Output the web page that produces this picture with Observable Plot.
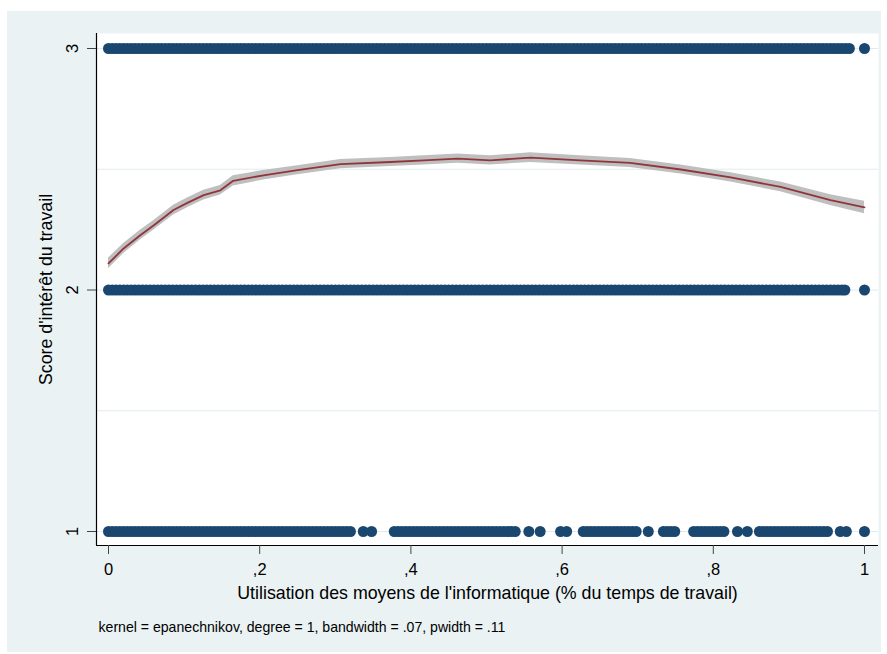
<!DOCTYPE html>
<html>
<head>
<meta charset="utf-8">
<script src="https://cdn.jsdelivr.net/npm/d3@7"></script>
<script src="https://cdn.jsdelivr.net/npm/@observablehq/plot@0.6"></script>
<style>
  html, body { margin: 0; padding: 0; background: #ffffff; overflow: hidden; }
  #bg { position: absolute; left: 7px; top: 11px; width: 874px; height: 641px; background: #eaf2f3; }
  #chart { position: absolute; left: 0; top: 0; }
</style>
</head>
<body>
<div id="bg"></div>
<div id="chart"></div>
<script>
// ---- Data ----
const xTicks = [0, 0.2, 0.4, 0.6, 0.8, 1];
const xTickLabels = ["0", ",2", ",4", ",6", ",8", "1"];
const yTicks = [1, 2, 3];
const yGrid = [1, 1.5, 2, 2.5, 3];

// observed x values of the dots for score = 3
const score3X = [
  0,0.005,0.01,0.015,0.02,0.025,0.03,0.035,0.04,0.045,0.05,0.055,0.06,0.065,0.07,0.075,0.08,0.085,0.09,0.095,
  0.1,0.105,0.11,0.115,0.12,0.125,0.13,0.135,0.14,0.145,0.15,0.155,0.16,0.165,0.17,0.175,0.18,0.185,0.19,0.195,
  0.2,0.205,0.21,0.215,0.22,0.225,0.23,0.235,0.24,0.245,0.25,0.255,0.26,0.265,0.27,0.275,0.28,0.285,0.29,0.295,
  0.3,0.305,0.31,0.315,0.32,0.325,0.33,0.335,0.34,0.345,0.35,0.355,0.36,0.365,0.37,0.375,0.38,0.385,0.39,0.395,
  0.4,0.405,0.41,0.415,0.42,0.425,0.43,0.435,0.44,0.445,0.45,0.455,0.46,0.465,0.47,0.475,0.48,0.485,0.49,0.495,
  0.5,0.505,0.51,0.515,0.52,0.525,0.53,0.535,0.54,0.545,0.55,0.555,0.56,0.565,0.57,0.575,0.58,0.585,0.59,0.595,
  0.6,0.605,0.61,0.615,0.62,0.625,0.63,0.635,0.64,0.645,0.65,0.655,0.66,0.665,0.67,0.675,0.68,0.685,0.69,0.695,
  0.7,0.705,0.71,0.715,0.72,0.725,0.73,0.735,0.74,0.745,0.75,0.755,0.76,0.765,0.77,0.775,0.78,0.785,0.79,0.795,
  0.8,0.805,0.81,0.815,0.82,0.825,0.83,0.835,0.84,0.845,0.85,0.855,0.86,0.865,0.87,0.875,0.88,0.885,0.89,0.895,
  0.9,0.905,0.91,0.915,0.92,0.925,0.93,0.935,0.94,0.945,0.95,0.955,0.96,0.965,0.97,0.975,0.98,
  1];
// observed x values of the dots for score = 2
const score2X = [
  0,0.005,0.01,0.015,0.02,0.025,0.03,0.035,0.04,0.045,0.05,0.055,0.06,0.065,0.07,0.075,0.08,0.085,0.09,0.095,
  0.1,0.105,0.11,0.115,0.12,0.125,0.13,0.135,0.14,0.145,0.15,0.155,0.16,0.165,0.17,0.175,0.18,0.185,0.19,0.195,
  0.2,0.205,0.21,0.215,0.22,0.225,0.23,0.235,0.24,0.245,0.25,0.255,0.26,0.265,0.27,0.275,0.28,0.285,0.29,0.295,
  0.3,0.305,0.31,0.315,0.32,0.325,0.33,0.335,0.34,0.345,0.35,0.355,0.36,0.365,0.37,0.375,0.38,0.385,0.39,0.395,
  0.4,0.405,0.41,0.415,0.42,0.425,0.43,0.435,0.44,0.445,0.45,0.455,0.46,0.465,0.47,0.475,0.48,0.485,0.49,0.495,
  0.5,0.505,0.51,0.515,0.52,0.525,0.53,0.535,0.54,0.545,0.55,0.555,0.56,0.565,0.57,0.575,0.58,0.585,0.59,0.595,
  0.6,0.605,0.61,0.615,0.62,0.625,0.63,0.635,0.64,0.645,0.65,0.655,0.66,0.665,0.67,0.675,0.68,0.685,0.69,0.695,
  0.7,0.705,0.71,0.715,0.72,0.725,0.73,0.735,0.74,0.745,0.75,0.755,0.76,0.765,0.77,0.775,0.78,0.785,0.79,0.795,
  0.8,0.805,0.81,0.815,0.82,0.825,0.83,0.835,0.84,0.845,0.85,0.855,0.86,0.865,0.87,0.875,0.88,0.885,0.89,0.895,
  0.9,0.905,0.91,0.915,0.92,0.925,0.93,0.935,0.94,0.945,0.95,0.955,0.96,0.965,0.97,0.974,
  1];
// observed x values of the dots for score = 1
const score1X = [
  0,0.005,0.01,0.015,0.02,0.025,0.03,0.035,0.04,0.045,0.05,0.055,0.06,0.065,0.07,0.075,0.08,0.085,0.09,0.095,
  0.1,0.105,0.11,0.115,0.12,0.125,0.13,0.135,0.14,0.145,0.15,0.155,0.16,0.165,0.17,0.175,0.18,0.185,0.19,0.195,
  0.2,0.205,0.21,0.215,0.22,0.225,0.23,0.235,0.24,0.245,0.25,0.255,0.26,0.265,0.27,0.275,0.28,0.285,0.29,0.295,
  0.3,0.305,0.31,0.315,0.32,
  0.337,0.348,
  0.378,0.383,0.388,0.393,0.398,0.403,0.408,0.413,0.418,0.423,0.428,0.433,0.438,0.443,0.448,0.453,0.458,0.463,
  0.468,0.473,0.478,0.483,0.488,0.493,0.498,0.503,0.508,0.513,0.518,0.523,0.528,0.533,0.538,
  0.556,0.571,
  0.598,0.606,
  0.628,0.633,0.638,0.643,0.648,0.653,0.658,0.663,0.668,0.673,0.678,0.683,0.688,0.693,0.698,
  0.714,
  0.734,0.739,0.744,0.749,
  0.774,0.779,0.784,0.789,0.794,0.799,0.804,0.809,0.814,
  0.832,0.845,
  0.861,0.866,0.871,0.876,0.881,0.886,0.891,0.896,0.901,0.906,0.911,0.916,0.921,0.926,0.931,0.936,0.941,0.946,0.951,
  0.968,0.976,
  1];

// local polynomial fit and its 95% CI
const fitX  = [0, 0.02, 0.042, 0.06, 0.086, 0.105, 0.126, 0.148, 0.165, 0.205, 0.25, 0.307, 0.373, 0.417, 0.462, 0.505, 0.558, 0.624, 0.69, 0.757, 0.823, 0.889, 0.955, 1];
const fitY  = [2.110, 2.172, 2.227, 2.268, 2.331, 2.362, 2.393, 2.413, 2.452, 2.475, 2.496, 2.521, 2.530, 2.537, 2.544, 2.537, 2.548, 2.537, 2.526, 2.499, 2.466, 2.427, 2.372, 2.342];
const ciLo  = [2.088, 2.151, 2.207, 2.248, 2.311, 2.342, 2.373, 2.393, 2.431, 2.455, 2.477, 2.502, 2.511, 2.518, 2.525, 2.518, 2.528, 2.518, 2.507, 2.480, 2.447, 2.407, 2.350, 2.316];
const ciHi  = [2.132, 2.193, 2.247, 2.288, 2.351, 2.382, 2.413, 2.433, 2.473, 2.495, 2.515, 2.540, 2.549, 2.556, 2.563, 2.556, 2.568, 2.556, 2.545, 2.518, 2.485, 2.447, 2.394, 2.368];

const xTitle = "Utilisation des moyens de l'informatique (% du temps de travail)";
const yTitle = "Score d'intérêt du travail";
const note = "kernel = epanechnikov, degree = 1, bandwidth = .07, pwidth = .11";

// ---- Build tables ----
const dots = [
  ...score1X.map(x => ({x, y: 1})),
  ...score2X.map(x => ({x, y: 2})),
  ...score3X.map(x => ({x, y: 3}))
];
const fit = fitX.map((x, i) => ({x, y: fitY[i], lo: ciLo[i], hi: ciHi[i]}));
const fmtX = d => xTickLabels[xTicks.findIndex(t => Math.abs(t - d) < 1e-9)];

const font = "'Liberation Sans', Arial, sans-serif";

const chart = Plot.plot({
  width: 887,
  height: 654,
  marginLeft: 96,
  marginRight: 9,
  marginTop: 33,
  marginBottom: 109,
  style: { background: "transparent", fontFamily: font, color: "#000" },
  x: { domain: [0, 1], insetLeft: 12, insetRight: 14, label: null },
  y: { domain: [1, 3], insetTop: 15, insetBottom: 14, label: null },
  marks: [
    Plot.frame({ fill: "white", stroke: "none" }),
    Plot.ruleY(yGrid, { stroke: "#e0ebee", strokeWidth: 1.2 }),
    Plot.areaY(fit, { x: "x", y1: "lo", y2: "hi", fill: "#bfbfbf" }),
    Plot.lineY(fit, { x: "x", y: "y", stroke: "#90353b", strokeWidth: 1.8 }),
    Plot.dot(dots, { x: "x", y: "y", r: 5.5, fill: "#1a476f", stroke: "none" }),
    Plot.ruleY([1], { dy: 14, stroke: "#000", strokeWidth: 1.2 }),
    Plot.ruleX([0], { dx: -12, stroke: "#000", strokeWidth: 1.2 }),
    Plot.axisX({ ticks: xTicks, tickSize: 9, tickPadding: 9, tickFormat: fmtX, fontSize: 16.5, stroke: "#444", label: null }),
    Plot.axisY({ ticks: yTicks, tickSize: 9, tickFormat: () => "", stroke: "#444", label: null }),
    Plot.text(yTicks, { y: d => d, text: d => String(d), frameAnchor: "left", dx: -24, rotate: -90, textAnchor: "middle", fontSize: 16.5 }),
    Plot.text([yTitle], { frameAnchor: "left", dx: -50, rotate: -90, textAnchor: "middle", fontSize: 17.8 }),
    Plot.text([xTitle], { frameAnchor: "bottom", dy: 53, textAnchor: "middle", fontSize: 17.8 }),
    Plot.text([note], { frameAnchor: "bottom-left", dx: 2, dy: 86, textAnchor: "start", fontSize: 14.1 })
  ]
});
document.getElementById("chart").appendChild(chart);
</script>
</body>
</html>
